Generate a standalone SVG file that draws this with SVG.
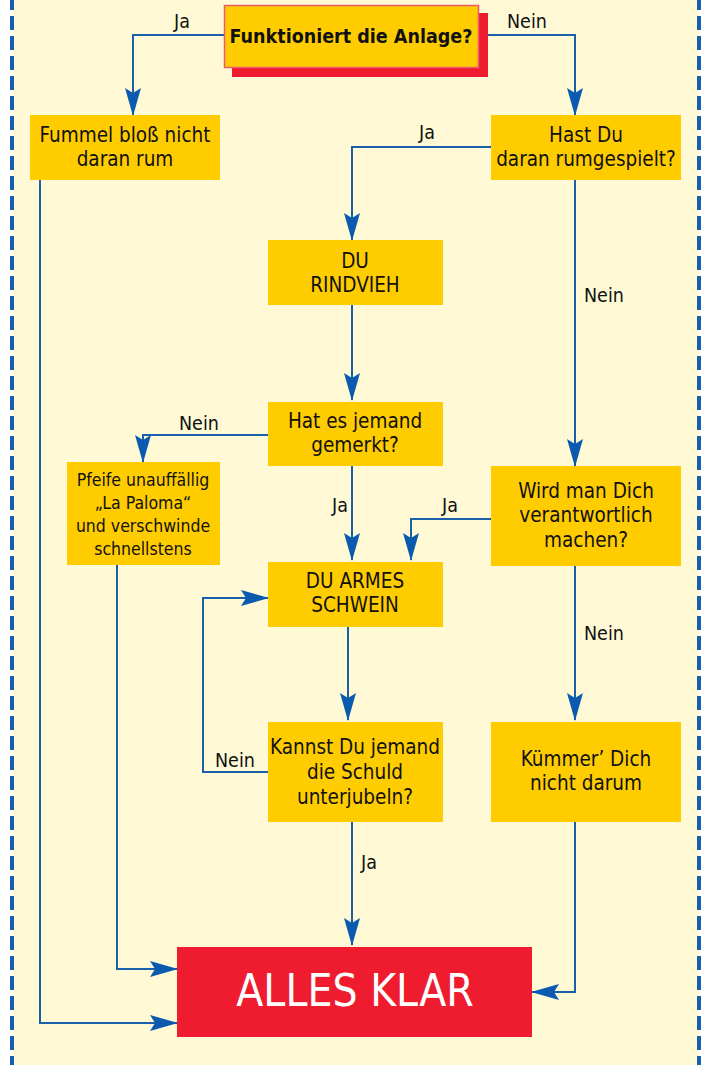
<svg xmlns="http://www.w3.org/2000/svg" width="707" height="1065" viewBox="0 0 707 1065">
<defs>
<style>
.bg{fill:#FFF9D5}
.bd{stroke:#1560B0;stroke-width:4;stroke-dasharray:14 6;fill:none}
.box{fill:#FFCC00}
.red{fill:#EE1C2E}
.t{font-family:"DejaVu Sans Condensed","Liberation Sans",sans-serif;font-stretch:condensed;font-size:20.5px;fill:#111;text-anchor:middle}
.s{font-size:17.5px}
.b{font-weight:bold;font-size:19.5px}
.lbl{font-family:"DejaVu Sans Condensed","Liberation Sans",sans-serif;font-stretch:condensed;font-size:19.5px;fill:#111}
.big{font-family:"DejaVu Sans Condensed","Liberation Sans",sans-serif;font-stretch:condensed;font-size:44px;fill:#fff;text-anchor:middle}
.c{fill:none;stroke:#1A5FAA;stroke-width:2}
</style>
<marker id="ah" viewBox="0 0 28 16" refX="27" refY="8" markerWidth="28" markerHeight="16" markerUnits="userSpaceOnUse" orient="auto">
<path d="M0,0 L28,8 L0,16 L5,8 Z" fill="#0A5BB0"/>
</marker>
</defs>
<rect x="0" y="0" width="707" height="1065" fill="#fff"/>
<rect class="bg" x="12" y="0" width="687" height="1065"/>
<line class="bd" x1="12" y1="-4" x2="12" y2="1065"/>
<line class="bd" x1="699" y1="-4" x2="699" y2="1065"/>

<g id="connectors">
<polyline class="c" points="224,35 133,35 133,115" marker-end="url(#ah)"/>
<polyline class="c" points="479,35 575,35 575,115" marker-end="url(#ah)"/>
<polyline class="c" points="491,147 352,147 352,240" marker-end="url(#ah)"/>
<polyline class="c" points="352,305 352,400" marker-end="url(#ah)"/>
<polyline class="c" points="575,180 575,466" marker-end="url(#ah)"/>
<polyline class="c" points="268,435 143,435 143,462" marker-end="url(#ah)"/>
<polyline class="c" points="352,466 352,560" marker-end="url(#ah)"/>
<polyline class="c" points="491,519 411,519 411,560" marker-end="url(#ah)"/>
<polyline class="c" points="348,627 348,720" marker-end="url(#ah)"/>
<polyline class="c" points="575,566 575,720" marker-end="url(#ah)"/>
<polyline class="c" points="268,772 203,772 203,598 268,598" marker-end="url(#ah)"/>
<polyline class="c" points="352,822 352,945" marker-end="url(#ah)"/>
<polyline class="c" points="575,822 575,992 532,992" marker-end="url(#ah)"/>
<polyline class="c" points="117,565 117,969 177,969" marker-end="url(#ah)"/>
<polyline class="c" points="40,180 40,1023 177,1023" marker-end="url(#ah)"/>
<text class="lbl" x="174" y="28">Ja</text>
<text class="lbl" x="507" y="28">Nein</text>
<text class="lbl" x="419" y="139">Ja</text>
<text class="lbl" x="584" y="302">Nein</text>
<text class="lbl" x="179" y="430">Nein</text>
<text class="lbl" x="332" y="512">Ja</text>
<text class="lbl" x="442" y="512">Ja</text>
<text class="lbl" x="584" y="640">Nein</text>
<text class="lbl" x="215" y="767">Nein</text>
<text class="lbl" x="361" y="869">Ja</text>
</g>

<g id="n-start">
<rect class="red" x="232" y="13" width="256" height="64"/>
<rect class="box" x="224.5" y="5.5" width="254" height="62" stroke="#F05A6A" stroke-width="1.5"/>
<text class="t b" x="351" y="43">Funktioniert die Anlage?</text>
</g>
<g id="n-fummel">
<rect class="box" x="30" y="115" width="190" height="65"/>
<text class="t" x="125" y="142">Fummel bloß nicht</text>
<text class="t" x="125" y="166">daran rum</text>
</g>
<g id="n-hast">
<rect class="box" x="491" y="115" width="190" height="65"/>
<text class="t" x="586" y="142">Hast Du</text>
<text class="t" x="586" y="166">daran rumgespielt?</text>
</g>
<g id="n-rindvieh">
<rect class="box" x="268" y="240" width="175" height="65"/>
<text class="t" x="355" y="268">DU</text>
<text class="t" x="355" y="292">RINDVIEH</text>
</g>
<g id="n-gemerkt">
<rect class="box" x="268" y="402" width="175" height="64"/>
<text class="t" x="355" y="428">Hat es jemand</text>
<text class="t" x="355" y="452">gemerkt?</text>
</g>
<g id="n-pfeife">
<rect class="box" x="67" y="462" width="153" height="103"/>
<text class="t s" x="143" y="486">Pfeife unauffällig</text>
<text class="t s" x="143" y="509">„La Paloma“</text>
<text class="t s" x="143" y="532">und verschwinde</text>
<text class="t s" x="143" y="555">schnellstens</text>
</g>
<g id="n-wird">
<rect class="box" x="491" y="466" width="190" height="100"/>
<text class="t" x="586" y="498">Wird man Dich</text>
<text class="t" x="586" y="522">verantwortlich</text>
<text class="t" x="586" y="547">machen?</text>
</g>
<g id="n-armes">
<rect class="box" x="268" y="562" width="175" height="65"/>
<text class="t" x="355" y="588">DU ARMES</text>
<text class="t" x="355" y="612">SCHWEIN</text>
</g>
<g id="n-kannst">
<rect class="box" x="268" y="722" width="175" height="100"/>
<text class="t" x="355" y="754">Kannst Du jemand</text>
<text class="t" x="355" y="779">die Schuld</text>
<text class="t" x="355" y="804">unterjubeln?</text>
</g>
<g id="n-kuemmer">
<rect class="box" x="491" y="722" width="190" height="100"/>
<text class="t" x="586" y="766">Kümmer’ Dich</text>
<text class="t" x="586" y="790">nicht darum</text>
</g>
<g id="n-klar">
<rect class="red" x="177" y="947" width="355" height="90"/>
<text class="big" x="355" y="1006">ALLES KLAR</text>
</g>
</svg>
